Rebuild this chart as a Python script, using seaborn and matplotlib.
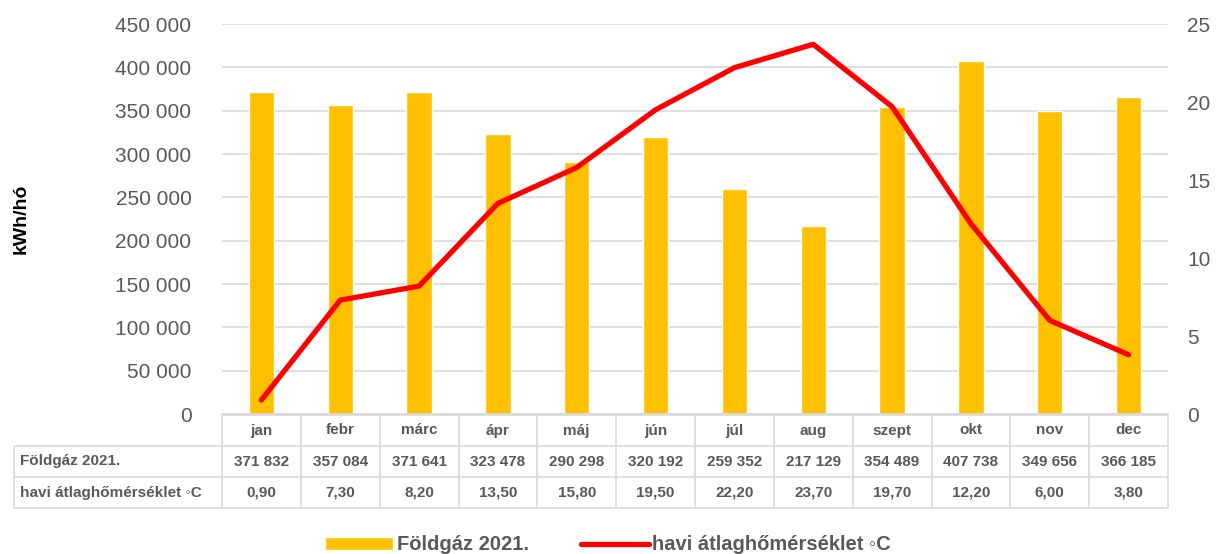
import numpy as np
import pandas as pd
import matplotlib
matplotlib.use("Agg")
import matplotlib.pyplot as plt
import seaborn as sns

# Adatok
honapok = ["jan", "febr", "márc", "ápr", "máj", "jún", "júl", "aug", "szept", "okt", "nov", "dec"]
foldgaz = [371832, 357084, 371641, 323478, 290298, 320192, 259352, 217129, 354489, 407738, 349656, 366185]
homerseklet = [0.90, 7.30, 8.20, 13.50, 15.80, 19.50, 22.20, 23.70, 19.70, 12.20, 6.00, 3.80]
sor_cimkek = ["Földgáz 2021.", "havi átlaghőmérséklet \u25E6C"]

GOLD = "#FFC000"
RED = "#FF0000"
GREY = "#595959"
GRID = "#D9D9D9"

sns.set_theme(style="white")
plt.rcParams["font.family"] = ["Liberation Sans", "DejaVu Sans"]

W, H = 1216, 554
fig = plt.figure(figsize=(W / 100, H / 100), dpi=100)

# fő tengely (pixel koordinátákból)
x0, x1, ytop, ybot = 222, 1168, 24, 414
ax = fig.add_axes([x0 / W, (H - ybot) / H, (x1 - x0) / W, (ybot - ytop) / H])

df = pd.DataFrame({"honap": honapok, "foldgaz": foldgaz, "hom": homerseklet})

sns.barplot(data=df, x="honap", y="foldgaz", color=GOLD, saturation=1, width=0.32,
            ax=ax, label="Földgáz 2021.", zorder=2)
ax.set_ylim(0, 450000)
ax.set_yticks(np.arange(0, 450001, 50000))
ax.set_yticklabels([f"{v:,.0f}".replace(",", " ") for v in ax.get_yticks()])
ax.set_xlim(-0.5, len(honapok) - 0.5)
ax.set_xticks([])
ax.set_xlabel("")
ax.set_ylabel("kWh/hó", fontsize=14, fontweight="bold", color="black", labelpad=62)
ax.grid(axis="y", color=GRID, linewidth=1.2, zorder=0)
ax.set_axisbelow(True)
ax.tick_params(axis="y", length=0, pad=22, labelsize=15, labelcolor=GREY)
for s in ["left", "right", "top"]:
    ax.spines[s].set_visible(False)
ax.spines["bottom"].set_color(GRID)

ax2 = ax.twinx()
sns.lineplot(x=np.arange(len(honapok)), y=homerseklet, color=RED, linewidth=3.8,
             ax=ax2, label="havi átlaghőmérséklet \u25E6C", zorder=3,
             solid_capstyle="round", solid_joinstyle="round")
ax2.set_ylim(0, 25)
ax2.set_yticks(np.arange(0, 26, 5))
ax2.tick_params(axis="y", length=0, pad=14, labelsize=15, labelcolor=GREY)
for s in ax2.spines.values():
    s.set_visible(False)
ax2.set_xlim(-0.5, len(honapok) - 0.5)

# legenda
h1, l1 = ax.get_legend_handles_labels()
h2, l2 = ax2.get_legend_handles_labels()
for a in (ax, ax2):
    if a.get_legend() is not None:
        a.get_legend().remove()
leg = fig.legend(h1 + h2, l1 + l2, loc="center", bbox_to_anchor=(0.5, 9 / H), ncol=2,
                 frameon=False, handlelength=3.4, handletextpad=0.15, handleheight=0.6,
                 columnspacing=2.6, prop={"weight": "bold", "size": 14.5})
for t in leg.get_texts():
    t.set_color(GREY)

# adattábla
tx0, ttop, tbot = 14, 415, 508
ax_t = fig.add_axes([tx0 / W, (H - tbot) / H, (x1 - tx0) / W, (tbot - ttop) / H])
cat_px = (x1 - x0) / len(honapok)
left_units = (x0 - tx0) / cat_px
ax_t.set_xlim(-0.5 - left_units, len(honapok) - 0.5)
ax_t.set_ylim(3, 0)
ax_t.axis("off")
lkw = dict(color=GRID, linewidth=1.2, clip_on=False)
xl = -0.5 - left_units
xr = len(honapok) - 0.5
ax_t.hlines(0, -0.5, xr, **lkw)
for r in (1, 2, 3):
    ax_t.hlines(r, xl, xr, **lkw)
ax_t.vlines(xl, 1, 3, **lkw)
for i in range(len(honapok) + 1):
    ax_t.vlines(i - 0.5, 0, 3, **lkw)

tkw = dict(fontsize=11, fontweight="bold", color=GREY, va="center")
for i, m in enumerate(honapok):
    ax_t.text(i, 0.5, m, ha="center", **tkw)
    ax_t.text(i, 1.5, f"{foldgaz[i]:,.0f}".replace(",", " "), ha="center", **tkw)
    ax_t.text(i, 2.5, f"{homerseklet[i]:.2f}".replace(".", ","), ha="center", **tkw)
for r, lab in enumerate(sor_cimkek):
    ax_t.text(xl + 0.08, r + 1.5, lab, ha="left", **tkw)

fig.savefig("out.png", dpi=100)
